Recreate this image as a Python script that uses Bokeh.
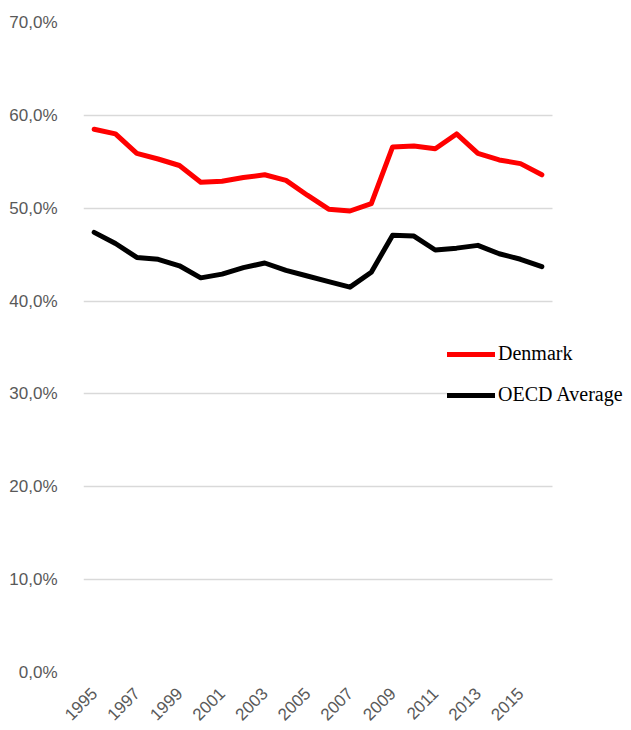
import math
from bokeh.plotting import figure
from bokeh.models import Range1d, FixedTicker, Legend, LegendItem, ColumnDataSource, BoxAnnotation
from bokeh.embed import file_html
from bokeh.resources import INLINE

years = list(range(1995, 2017))
denmark = [58.5, 58.0, 55.9, 55.3, 54.6, 52.8, 52.9, 53.3, 53.6, 53.0, 51.4, 49.9,
           49.7, 50.5, 56.6, 56.7, 56.4, 58.0, 55.9, 55.2, 54.8, 53.6]
oecd = [47.4, 46.2, 44.7, 44.5, 43.8, 42.5, 42.9, 43.6, 44.1, 43.3, 42.7, 42.1,
        41.5, 43.1, 47.1, 47.0, 45.5, 45.7, 46.0, 45.1, 44.5, 43.7]
x_ticks = list(range(1995, 2016, 2))
y_ticks = [0, 10, 20, 30, 40, 50, 60, 70]
y_labels = ["0,0%", "10,0%", "20,0%", "30,0%", "40,0%", "50,0%", "60,0%", "70,0%"]

src = ColumnDataSource(dict(year=years, denmark=denmark, oecd=oecd))

# category band edges: 1994.5 .. 2016.5 spans 469 px; frame extends to the right edge for the legend
x_start, x_end_cat = 1994.5, 2016.5
frame_w = 631 - 83
x_end = x_start + (x_end_cat - x_start) * frame_w / 469.0

p = figure(width=631, height=730, output_backend="svg", toolbar_location=None,
           x_range=Range1d(x_start, x_end), y_range=Range1d(0, 70),
           min_border_left=83, min_border_right=0, min_border_top=22, min_border_bottom=58)
p.outline_line_color = None
p.background_fill_color = "white"
p.border_fill_color = "white"

p.xgrid.grid_line_color = None
p.ygrid.grid_line_color = "#d9d9d9"
p.ygrid.grid_line_width = 1.5

# blank out the gridlines to the right of the plot area
p.add_layout(BoxAnnotation(left=x_end_cat, fill_color="white", fill_alpha=1,
                           line_color=None, level="underlay"))

r1 = p.line("year", "denmark", source=src, line_color="#ff0000", line_width=5,
            line_join="round", line_cap="round")
r2 = p.line("year", "oecd", source=src, line_color="#000000", line_width=5,
            line_join="round", line_cap="round")

p.yaxis.ticker = FixedTicker(ticks=y_ticks)
p.yaxis.major_label_overrides = {t: l for t, l in zip(y_ticks, y_labels)}
p.xaxis.ticker = FixedTicker(ticks=x_ticks)
p.xaxis.major_label_overrides = {t: str(t) for t in x_ticks}
p.xaxis.major_label_orientation = math.pi / 4

for ax in (p.xaxis[0], p.yaxis[0]):
    ax.axis_line_color = None
    ax.major_tick_line_color = None
    ax.minor_tick_line_color = None
    ax.major_label_text_font = "Liberation Sans"
    ax.major_label_text_font_size = "17px"
    ax.major_label_text_color = "#595959"
p.yaxis.major_label_standoff = 20
p.xaxis.major_label_standoff = 12

legend = Legend(items=[LegendItem(label="Denmark", renderers=[r1]),
                       LegendItem(label="OECD Average", renderers=[r2])],
                location=(364, 266), orientation="vertical")
legend.padding = 0
legend.margin = 0
legend.spacing = 18
legend.glyph_width = 48
legend.glyph_height = 20
legend.label_height = 20
legend.label_standoff = 3
legend.border_line_color = None
legend.background_fill_color = "white"
legend.background_fill_alpha = 1
legend.label_text_font = "Liberation Serif"
legend.label_text_font_size = "20px"
legend.label_text_color = "#000000"
p.add_layout(legend, "center")

open("out.html", "w").write(file_html(p, INLINE))
